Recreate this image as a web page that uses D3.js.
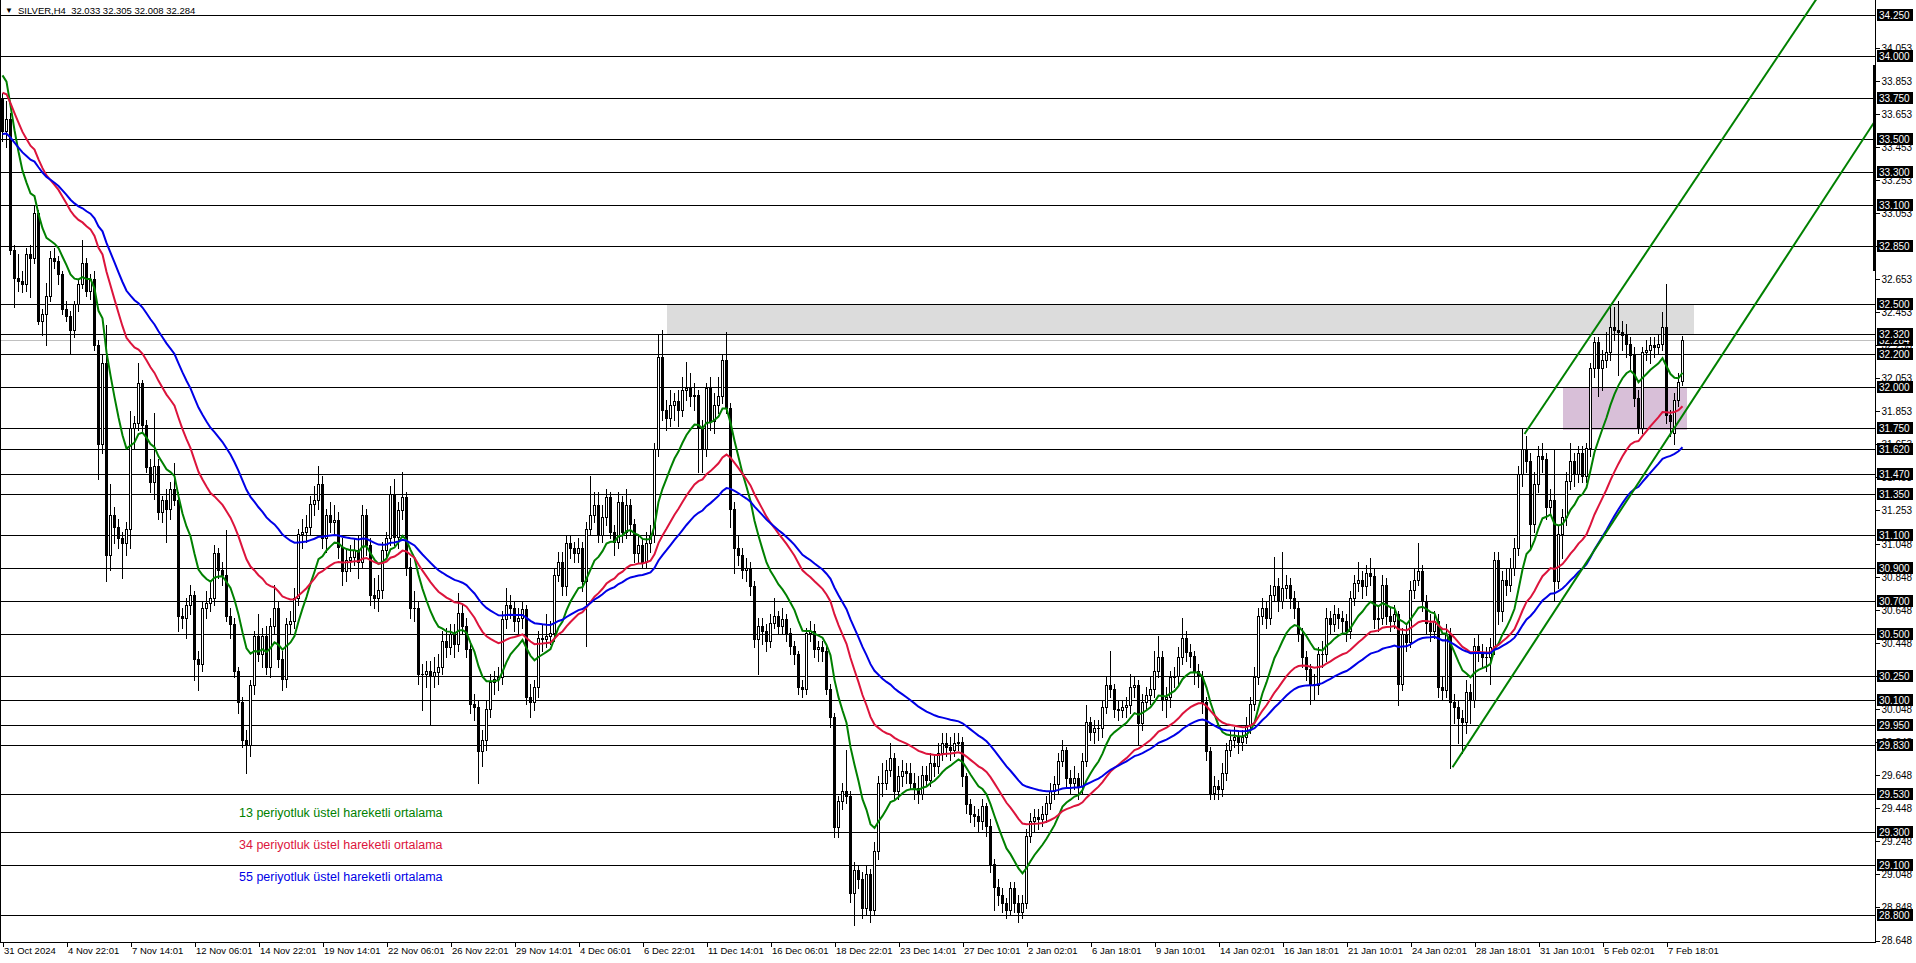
<!DOCTYPE html>
<html><head><meta charset="utf-8">
<script src="https://cdn.jsdelivr.net/npm/d3@7"></script>
<style>
html,body{margin:0;padding:0;background:#fff;overflow:hidden}
svg{display:block}
text{font-family:"Liberation Sans",Arial,sans-serif}
</style></head><body>
<svg id="c" width="1916" height="963"></svg>
<script>
// ---------- data ----------
const symbolTitle = "SILVER,H4  32.033 32.305 32.008 32.284";
const opens = [33.74,33.55,33.62,32.83,32.66,32.64,32.62,32.80,32.78,33.05,
32.40,32.44,32.55,32.78,32.76,32.68,32.47,32.43,32.34,32.50,
32.62,32.75,32.58,32.65,32.25,31.65,32.14,30.98,31.22,31.15,
31.08,31.05,31.14,31.75,31.78,32.02,31.77,31.51,31.42,31.52,
31.24,31.31,31.26,31.38,31.31,30.61,30.60,30.68,30.74,30.35,
30.32,30.66,30.69,30.72,30.99,30.89,30.86,30.61,30.56,30.28,
30.09,29.86,29.83,30.19,30.49,30.38,30.49,30.30,30.55,30.66,
30.35,30.23,30.56,30.58,30.72,31.11,31.12,31.15,31.29,31.31,
31.41,31.08,31.22,31.18,31.19,31.03,30.88,30.95,30.97,31.01,
30.94,31.22,31.04,30.74,30.72,30.77,31.01,31.08,31.35,31.09,
31.25,31.33,30.91,30.66,30.66,30.26,30.26,30.28,30.25,30.27,
30.30,30.46,30.42,30.50,30.44,30.63,30.55,30.41,30.08,30.06,
29.79,29.86,30.05,30.21,30.23,30.24,30.59,30.68,30.66,30.58,
30.60,30.65,30.12,30.09,30.18,30.48,30.47,30.49,30.51,30.86,
30.94,30.79,31.05,31.02,30.99,31.02,30.82,31.14,31.22,31.28,
31.10,31.21,31.33,31.12,31.06,31.30,31.12,31.28,31.17,30.99,
31.04,30.94,31.05,31.10,31.62,32.18,31.86,31.81,31.89,31.91,
31.86,31.98,31.99,31.94,31.95,31.75,31.62,31.99,31.79,31.89,
31.94,32.16,31.87,31.26,31.02,30.98,30.89,30.90,30.79,30.47,
30.55,30.52,30.46,30.57,30.61,30.55,30.59,30.51,30.43,30.38,
30.18,30.17,30.51,30.52,30.41,30.42,30.40,30.17,30.00,29.33,
29.49,29.55,29.52,28.93,29.07,29.02,28.84,29.05,28.83,29.19,
29.60,29.60,29.68,29.75,29.55,29.64,29.67,29.66,29.60,29.57,
29.53,29.65,29.62,29.72,29.70,29.78,29.84,29.82,29.80,29.84,
29.85,29.64,29.47,29.41,29.40,29.37,29.46,29.34,29.11,28.97,
28.92,28.87,28.83,28.96,28.87,28.82,28.87,29.28,29.37,29.39,
29.38,29.41,29.48,29.55,29.59,29.73,29.80,29.63,29.60,29.63,
29.58,29.73,29.97,29.91,29.93,29.93,30.06,30.19,30.17,30.05,
30.04,30.06,30.07,30.18,30.19,29.96,30.09,30.13,30.17,30.28,
30.36,30.11,30.12,30.24,30.25,30.36,30.48,30.39,30.37,30.28,
30.25,30.09,29.79,29.54,29.58,29.56,29.66,29.80,29.86,29.88,
29.85,29.88,29.95,30.08,30.24,30.61,30.66,30.60,30.74,30.79,
30.70,30.78,30.80,30.72,30.66,30.50,30.36,30.29,30.20,30.19,
30.38,30.38,30.60,30.56,30.62,30.60,30.58,30.52,30.72,30.81,
30.83,30.79,30.87,30.85,30.59,30.60,30.80,30.61,30.58,30.62,
30.20,30.50,30.45,30.77,30.83,30.88,30.70,30.57,30.52,30.58,
30.18,30.16,30.50,30.09,30.06,29.99,29.97,30.15,30.10,30.43,
30.39,30.36,30.36,30.42,30.95,30.64,30.83,30.80,30.90,31.02,
31.47,31.62,31.55,31.17,31.41,31.58,31.56,31.27,31.31,30.82,
31.11,31.21,31.43,31.55,31.47,31.60,31.46,31.63,32.11,32.27,
32.11,32.16,32.21,32.36,32.34,32.33,32.31,32.26,32.19,31.93,
31.75,32.21,32.22,32.25,32.24,32.26,32.36,31.83,31.72,31.92,
32.033];
const highs = [33.78,33.73,33.66,32.86,32.80,32.70,32.84,32.86,33.10,33.07,
32.47,32.63,32.82,32.84,32.79,32.70,32.52,32.46,32.52,32.65,
32.89,32.78,32.68,32.70,32.28,32.20,32.37,31.41,31.27,31.20,
31.12,31.18,31.85,31.82,32.14,32.04,31.80,31.56,31.84,31.56,
31.34,31.38,31.42,31.54,31.36,30.66,30.72,30.80,30.76,30.40,
30.70,30.76,30.82,31.04,31.02,30.94,31.13,30.66,30.60,30.30,
30.12,29.92,30.22,30.52,30.62,30.54,30.55,30.60,30.80,30.70,
30.40,30.60,30.64,30.78,31.14,31.20,31.22,31.34,31.40,31.52,
31.46,31.26,31.30,31.28,31.24,31.08,31.02,31.04,31.08,31.10,
31.28,31.26,31.08,30.84,30.86,31.06,31.12,31.40,31.44,31.30,
31.48,31.36,30.96,30.76,30.70,30.32,30.34,30.34,30.36,30.38,
30.52,30.54,30.56,30.56,30.75,30.68,30.60,30.44,30.14,30.10,
29.92,30.10,30.26,30.28,30.30,30.64,30.78,30.74,30.70,30.66,
30.70,30.68,30.20,30.22,30.52,30.56,30.62,30.58,30.90,31.00,
31.00,31.10,31.10,31.06,31.08,31.06,31.18,31.46,31.36,31.36,
31.28,31.38,31.36,31.16,31.36,31.34,31.38,31.32,31.20,31.10,
31.08,31.12,31.16,31.66,32.31,32.34,31.92,31.98,31.96,31.98,
32.06,32.15,32.08,32.02,31.98,31.80,32.02,32.06,31.96,32.06,
32.20,32.33,31.90,31.30,31.10,31.02,30.96,30.94,30.82,30.60,
30.60,30.56,30.62,30.72,30.64,30.66,30.62,30.54,30.46,30.40,
30.22,30.54,30.58,30.56,30.46,30.46,30.44,30.20,30.02,29.52,
29.60,29.80,29.55,29.12,29.10,29.06,29.10,29.08,29.24,29.64,
29.72,29.74,29.84,29.78,29.70,29.74,29.72,29.72,29.66,29.64,
29.70,29.70,29.78,29.76,29.84,29.90,29.90,29.88,29.90,29.90,
29.88,29.66,29.50,29.46,29.44,29.50,29.48,29.38,29.14,29.02,
28.96,28.90,29.00,29.00,28.92,28.92,29.32,29.42,29.44,29.44,
29.46,29.52,29.60,29.64,29.78,29.86,29.82,29.68,29.70,29.66,
29.78,30.07,30.00,29.98,29.98,30.10,30.24,30.40,30.20,30.10,
30.10,30.12,30.26,30.24,30.22,30.14,30.18,30.24,30.40,30.49,
30.40,30.18,30.28,30.30,30.42,30.60,30.52,30.44,30.40,30.32,
30.28,30.12,29.82,29.64,29.62,29.72,29.84,29.92,29.94,29.92,
29.92,30.00,30.12,30.30,30.66,30.72,30.70,30.80,30.97,30.84,
31.00,30.86,30.84,30.76,30.70,30.54,30.40,30.32,30.26,30.42,
30.46,30.66,30.64,30.68,30.66,30.64,30.62,30.76,30.86,30.94,
30.88,30.92,30.96,30.90,30.68,30.86,30.84,30.66,30.68,30.64,
30.54,30.56,30.82,30.90,31.05,30.92,30.74,30.62,30.64,30.62,
30.24,30.56,30.54,30.14,30.10,30.04,30.22,30.20,30.48,30.50,
30.44,30.42,30.48,31.00,31.00,30.88,30.90,30.96,31.08,31.52,
31.75,31.70,31.60,31.48,31.64,31.66,31.60,31.38,31.62,31.16,
31.26,31.48,31.66,31.60,31.64,31.64,31.66,32.14,32.30,32.30,
32.22,32.33,32.50,32.48,32.52,32.40,32.38,32.30,32.24,31.98,
32.24,32.28,32.30,32.30,32.32,32.45,32.62,31.86,31.96,32.08,
32.305];
const lows = [33.49,33.45,32.80,32.48,32.58,32.57,32.58,32.54,32.75,32.38,
32.31,32.25,32.52,32.72,32.62,32.44,32.40,32.20,32.30,32.46,
32.60,32.55,32.53,32.22,31.44,31.60,30.82,30.89,31.05,31.02,
30.84,30.98,31.02,31.62,31.74,31.72,31.48,31.36,31.32,31.20,
31.18,31.06,31.20,31.28,30.52,30.54,30.48,30.62,30.22,30.16,
30.28,30.60,30.64,30.68,30.84,30.80,30.58,30.48,30.24,30.02,
29.82,29.66,29.76,30.14,30.34,30.30,30.26,30.24,30.50,30.30,
30.16,30.18,30.50,30.54,30.68,31.02,31.06,31.10,31.22,31.26,
31.02,31.00,31.12,31.10,30.96,30.80,30.82,30.88,30.92,30.84,
30.90,30.98,30.68,30.66,30.64,30.72,30.96,31.04,31.04,31.02,
31.20,30.86,30.60,30.58,30.20,30.04,30.18,29.95,30.18,30.20,
30.26,30.36,30.38,30.36,30.40,30.50,30.36,30.02,29.98,29.60,
29.70,29.80,30.00,30.14,30.16,30.20,30.54,30.60,30.52,30.50,
30.54,30.08,30.00,30.04,30.12,30.40,30.42,30.44,30.46,30.82,
30.74,30.74,30.96,30.94,30.94,30.76,30.43,31.10,31.18,31.06,
31.06,31.16,31.08,30.98,31.02,31.06,31.08,31.10,30.94,30.94,
30.90,30.90,31.00,31.06,31.58,31.80,31.74,31.76,31.80,31.76,
31.82,31.92,31.88,31.86,31.48,31.48,31.58,31.74,31.72,31.84,
31.90,31.84,31.15,30.87,30.92,30.84,30.82,30.74,30.42,30.26,
30.44,30.40,30.42,30.54,30.50,30.50,30.46,30.38,30.32,30.14,
30.12,30.14,30.46,30.36,30.34,30.34,30.14,29.94,29.27,29.27,
29.44,29.48,28.88,28.74,28.96,28.78,28.80,28.76,28.80,29.14,
29.52,29.56,29.64,29.50,29.50,29.58,29.60,29.56,29.50,29.48,
29.50,29.58,29.58,29.64,29.66,29.74,29.76,29.74,29.76,29.80,
29.58,29.42,29.36,29.34,29.30,29.32,29.28,29.06,28.83,28.86,
28.82,28.78,28.80,28.82,28.76,28.78,28.84,29.24,29.30,29.32,
29.34,29.36,29.44,29.50,29.54,29.70,29.58,29.54,29.56,29.50,
29.54,29.70,29.86,29.84,29.86,29.88,30.02,30.12,30.00,29.98,
30.00,30.00,30.02,30.12,29.83,29.92,30.04,30.08,30.12,30.24,
30.04,30.00,30.06,30.18,30.20,30.32,30.34,30.30,30.20,30.18,
30.02,29.74,29.50,29.50,29.50,29.52,29.62,29.76,29.82,29.78,
29.80,29.84,29.90,30.04,30.20,30.56,30.54,30.56,30.70,30.64,
30.66,30.72,30.66,30.60,30.46,30.30,30.22,30.08,30.10,30.14,
30.30,30.34,30.50,30.52,30.54,30.50,30.46,30.48,30.68,30.76,
30.72,30.74,30.80,30.54,30.52,30.56,30.56,30.52,30.54,30.07,
30.16,30.40,30.42,30.72,30.80,30.64,30.50,30.46,30.48,30.12,
30.10,30.12,29.69,29.96,29.84,29.78,29.90,29.96,30.06,30.34,
30.30,30.28,30.20,30.38,30.56,30.58,30.74,30.76,30.86,30.98,
31.40,31.48,31.02,31.12,31.36,31.48,31.20,31.22,30.70,30.78,
30.96,31.16,31.38,31.40,31.42,31.42,31.42,31.58,32.06,31.94,
31.98,32.12,32.16,32.28,32.07,32.22,32.18,32.10,31.88,31.72,
31.72,32.16,32.14,32.18,32.20,32.22,31.78,31.70,31.65,31.88,
32.008];
const closes = [33.55,33.62,32.83,32.66,32.64,32.62,32.80,32.78,33.05,32.40,
32.44,32.55,32.78,32.76,32.68,32.47,32.43,32.34,32.50,32.62,
32.75,32.58,32.65,32.25,31.65,32.14,30.98,31.22,31.15,31.08,
31.05,31.14,31.75,31.78,32.02,31.77,31.51,31.42,31.52,31.24,
31.31,31.26,31.38,31.31,30.61,30.60,30.68,30.74,30.35,30.32,
30.66,30.69,30.72,30.99,30.89,30.86,30.61,30.56,30.28,30.09,
29.86,29.83,30.19,30.49,30.38,30.49,30.30,30.55,30.66,30.35,
30.23,30.56,30.58,30.72,31.11,31.12,31.15,31.29,31.31,31.41,
31.08,31.22,31.18,31.19,31.03,30.88,30.95,30.97,31.01,30.94,
31.22,31.04,30.74,30.72,30.77,31.01,31.08,31.35,31.09,31.25,
31.33,30.91,30.66,30.66,30.26,30.26,30.28,30.25,30.27,30.30,
30.46,30.42,30.50,30.44,30.63,30.55,30.41,30.08,30.06,29.79,
29.86,30.05,30.21,30.23,30.24,30.59,30.68,30.66,30.58,30.60,
30.65,30.12,30.09,30.18,30.48,30.47,30.49,30.51,30.86,30.94,
30.79,31.05,31.02,30.99,31.02,30.82,31.14,31.22,31.28,31.10,
31.21,31.33,31.12,31.06,31.30,31.12,31.28,31.17,30.99,31.04,
30.94,31.05,31.10,31.62,32.18,31.86,31.81,31.89,31.91,31.86,
31.98,31.99,31.94,31.95,31.75,31.62,31.99,31.79,31.89,31.94,
32.16,31.87,31.26,31.02,30.98,30.89,30.90,30.79,30.47,30.55,
30.52,30.46,30.57,30.61,30.55,30.59,30.51,30.43,30.38,30.18,
30.17,30.51,30.52,30.41,30.42,30.40,30.17,30.00,29.33,29.49,
29.55,29.52,28.93,29.07,29.02,28.84,29.05,28.83,29.19,29.60,
29.60,29.68,29.75,29.55,29.64,29.67,29.66,29.60,29.57,29.53,
29.65,29.62,29.72,29.70,29.78,29.84,29.82,29.80,29.84,29.85,
29.64,29.47,29.41,29.40,29.37,29.46,29.34,29.11,28.97,28.92,
28.87,28.83,28.96,28.87,28.82,28.87,29.28,29.37,29.39,29.38,
29.41,29.48,29.55,29.59,29.73,29.80,29.63,29.60,29.63,29.58,
29.73,29.97,29.91,29.93,29.93,30.06,30.19,30.17,30.05,30.04,
30.06,30.07,30.18,30.19,29.96,30.09,30.13,30.17,30.28,30.36,
30.11,30.12,30.24,30.25,30.36,30.48,30.39,30.37,30.28,30.25,
30.09,29.79,29.54,29.58,29.56,29.66,29.80,29.86,29.88,29.85,
29.88,29.95,30.08,30.24,30.61,30.66,30.60,30.74,30.79,30.70,
30.78,30.80,30.72,30.66,30.50,30.36,30.29,30.20,30.19,30.38,
30.38,30.60,30.56,30.62,30.60,30.58,30.52,30.72,30.81,30.83,
30.79,30.87,30.85,30.59,30.60,30.80,30.61,30.58,30.62,30.20,
30.50,30.45,30.77,30.83,30.88,30.70,30.57,30.52,30.58,30.18,
30.16,30.50,30.09,30.06,29.99,29.97,30.15,30.10,30.43,30.39,
30.36,30.36,30.42,30.95,30.64,30.83,30.80,30.90,31.02,31.47,
31.62,31.55,31.17,31.41,31.58,31.56,31.27,31.31,30.82,31.11,
31.21,31.43,31.55,31.47,31.60,31.46,31.63,32.11,32.27,32.11,
32.16,32.21,32.36,32.34,32.33,32.31,32.26,32.19,31.93,31.75,
32.21,32.22,32.25,32.24,32.26,32.36,31.83,31.79,31.92,32.03,
32.284];

// horizontal level lines drawn by the analyst
const levelLines = [34.25,34.00,33.75,33.50,33.30,33.10,32.85,32.50,32.32,32.20,32.00,31.75,31.62,31.47,31.35,31.10,30.90,30.70,30.50,30.25,30.10,29.95,29.83,29.53,29.30,29.10,28.80];
const bidPrice = 32.284;
// price scale tick labels
const priceTicks = [34.053,33.853,33.653,33.453,33.253,33.053,32.853,32.653,32.453,32.253,32.053,31.853,31.653,31.453,31.253,31.048,30.848,30.648,30.448,30.248,30.048,29.848,29.648,29.448,29.248,29.048,28.848,28.648];
// time scale tick labels and the bar index they sit on
const dateLabels = ["31 Oct 2024","4 Nov 22:01","7 Nov 14:01","12 Nov 06:01","14 Nov 22:01","19 Nov 14:01","22 Nov 06:01","26 Nov 22:01","29 Nov 14:01","4 Dec 06:01","6 Dec 22:01","11 Dec 14:01","16 Dec 06:01","18 Dec 22:01","23 Dec 14:01","27 Dec 10:01","2 Jan 02:01","6 Jan 18:01","9 Jan 10:01","14 Jan 02:01","16 Jan 18:01","21 Jan 10:01","24 Jan 02:01","28 Jan 18:01","31 Jan 10:01","5 Feb 02:01","7 Feb 18:01"];
const dateBars = [0,16,32,48,64,80,96,112,128,144,160,176,192,208,224,240,256,272,288,304,320,336,352,368,384,400,416];
// exponential moving averages: periods and their values at the first visible bar
const emaPeriods = [13,34,55];
const emaStart = [33.885,33.78,33.53];
const emaNames = ["13 periyotluk üstel hareketli ortalama","34 periyotluk üstel hareketli ortalama","55 periyotluk üstel hareketli ortalama"];
// trend lines (bar index, price) – two anchor points each
const trendUpper = [[380.5,31.713],[453.25,34.339]];
const trendLower = [[362.5,29.694],[468.25,33.613]];
// rectangle zones (bar range, price range)
const zoneResistance = [[166.25,423.1],[32.32,32.50]];
const zoneSupport = [[390.25,421.25],[31.74,32.00]];
// dark marker on the price scale (price range)
const scaleMarker = [32.70,33.945];

// ---------- layout ----------
const W = 1916, H = 963, plotR = 1875, plotB = 942;
const emaColors = ["#008000","#dc143c","#0000e6"];
const svg = d3.select("#c");
svg.append("rect").attr("width",W).attr("height",H).attr("fill","#fff");

const x = d3.scaleLinear().domain([0,1]).range([2,6]);          // 4 px per bar
const y = d3.scaleLinear().domain([28.648,34.25]).range([940,15.1]);
const yr = p => Math.round(y(p));

svg.append("clipPath").attr("id","plotClip").append("rect")
  .attr("x",0).attr("y",0).attr("width",plotR).attr("height",plotB);
const plot = svg.append("g").attr("clip-path","url(#plotClip)");

// zones
[[zoneResistance,"#dcdcdc"],[zoneSupport,"#d8bfd8"]].forEach(([z,c])=>{
  plot.append("rect")
    .attr("x",Math.round(x(z[0][0]))).attr("width",Math.round(x(z[0][1])-x(z[0][0])))
    .attr("y",yr(z[1][1])).attr("height",yr(z[1][0])-yr(z[1][1]))
    .attr("fill",c);
});

// level lines
plot.append("g").attr("shape-rendering","crispEdges").selectAll("rect").data(levelLines).join("rect")
  .attr("x",0).attr("width",plotR).attr("y",d=>yr(d)).attr("height",1).attr("fill","#000");
plot.append("rect").attr("x",0).attr("width",plotR).attr("y",yr(bidPrice)).attr("height",1)
  .attr("fill","#c0c0c0").attr("shape-rendering","crispEdges");

// candles
const bars = d3.range(closes.length).map(i=>({i,o:opens[i],h:highs[i],l:lows[i],c:closes[i]}));
const cg = plot.append("g").attr("shape-rendering","crispEdges");
bars.forEach(b=>{
  const cx = Math.round(x(b.i));
  const yh = yr(b.h), yl = yr(b.l);
  cg.append("rect").attr("x",cx).attr("width",1).attr("y",yh).attr("height",Math.max(1,yl-yh+1)).attr("fill","#000");
  const top = yr(Math.max(b.o,b.c)), bot = yr(Math.min(b.o,b.c));
  const hgt = Math.max(1,bot-top+1);
  cg.append("rect").attr("x",cx-1).attr("width",3).attr("y",top).attr("height",hgt).attr("fill","#000");
  if (b.c > b.o && hgt > 2) {
    cg.append("rect").attr("x",cx).attr("width",1).attr("y",top+1).attr("height",hgt-2).attr("fill","#fff");
  }
});

// EMAs
function ema(vals, period, start){
  const a = 2/(period+1), out=[start];
  for (let i=1;i<vals.length;i++) out.push(out[i-1]+a*(vals[i]-out[i-1]));
  return out;
}
const line = d3.line().x((d,i)=>x(i)+0.5).y(d=>y(d));
emaPeriods.forEach((p,k)=>{
  plot.append("path").datum(ema(closes,p,emaStart[k]))
    .attr("d",line).attr("fill","none").attr("stroke",emaColors[k]).attr("stroke-width",2);
});

// trend lines (rays)
[trendUpper,trendLower].forEach(t=>{
  const [[b0,p0],[b1,p1]] = t;
  const slope = (p1-p0)/(b1-b0);
  const bEnd = 520;
  plot.append("line")
    .attr("x1",x(b0)+0.5).attr("y1",y(p0))
    .attr("x2",x(bEnd)+0.5).attr("y2",y(p0+slope*(bEnd-b0)))
    .attr("stroke","#008000").attr("stroke-width",2);
});

// frame
const fr = svg.append("g").attr("shape-rendering","crispEdges").attr("fill","#000");
fr.append("rect").attr("x",0).attr("y",0).attr("width",1).attr("height",plotB);
fr.append("rect").attr("x",0).attr("y",plotB).attr("width",plotR+1).attr("height",1);
fr.append("rect").attr("x",plotR).attr("y",0).attr("width",1).attr("height",plotB+1);

// right price axis
const yAxis = d3.axisRight(y).tickValues(priceTicks).tickFormat(d3.format(".3f")).tickSize(4).tickPadding(2);
const ya = svg.append("g").attr("transform",`translate(${plotR+0.5},0.5)`).call(yAxis);
ya.select(".domain").remove();
ya.selectAll("text").attr("font-size",10).attr("font-family","Liberation Sans, Arial").attr("fill","#000");
ya.selectAll("line").attr("stroke","#000").attr("shape-rendering","crispEdges");

// bottom time axis
const xAxis = d3.axisBottom(x).tickValues(dateBars).tickFormat((d,i)=>dateLabels[i]).tickSize(4).tickPadding(1);
const xa = svg.append("g").attr("transform",`translate(0.5,${plotB+0.5})`).call(xAxis);
xa.select(".domain").remove();
xa.selectAll("line").attr("stroke","#000").attr("shape-rendering","crispEdges");
xa.selectAll("text").attr("font-size",9.5).attr("font-family","Liberation Sans, Arial").attr("fill","#000")
  .attr("text-anchor","start").attr("dx",1);

// marker on scale
svg.append("rect").attr("x",plotR-2).attr("width",3)
  .attr("y",yr(scaleMarker[1])).attr("height",yr(scaleMarker[0])-yr(scaleMarker[1]))
  .attr("fill","#000").attr("shape-rendering","crispEdges");

// level labels on the price scale
const lab = svg.append("g");
[bidPrice,...levelLines].forEach(p=>{
  const yy = yr(p);
  lab.append("rect").attr("x",plotR+2).attr("y",yy-6).attr("width",36).attr("height",12)
    .attr("fill","#000").attr("shape-rendering","crispEdges");
  lab.append("text").attr("x",plotR+4).attr("y",yy+4).attr("font-size",10)
    .attr("fill","#fff").text(d3.format(".3f")(p));
});

// title
svg.append("text").attr("x",5).attr("y",13).attr("font-size",8).attr("fill","#000").text("▼");
svg.append("text").attr("x",18).attr("y",14).attr("font-size",9.5).attr("fill","#000")
  .style("white-space","pre").text(symbolTitle);

// legend
emaNames.forEach((n,k)=>{
  svg.append("text").attr("x",239).attr("y",817+k*32).attr("font-size",12.5)
    .attr("fill",emaColors[k]).text(n);
});
</script>
</body></html>
